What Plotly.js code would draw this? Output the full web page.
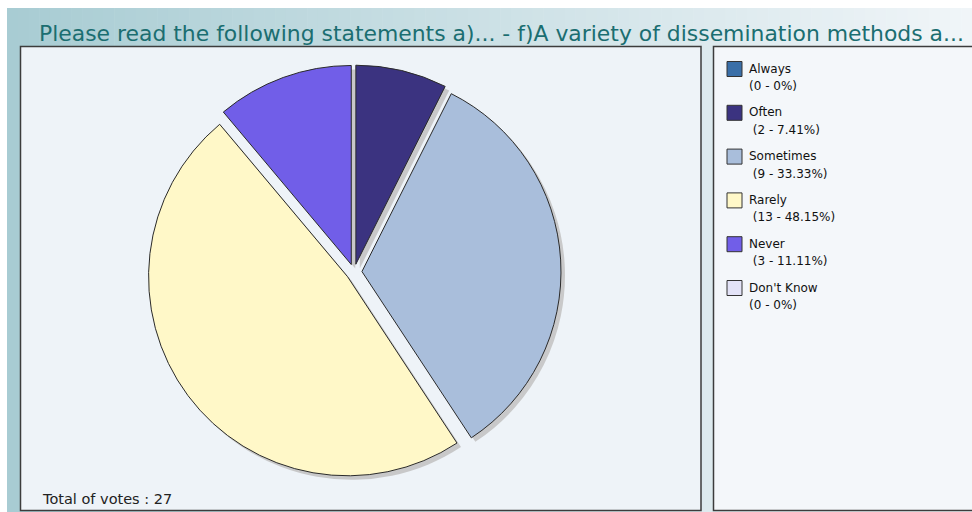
<!DOCTYPE html>
<html><head><meta charset="utf-8">
<script src="https://cdn.plot.ly/plotly-3.0.1.min.js"></script>
<style>html,body{margin:0;padding:0;background:#fff;overflow:hidden}</style>
</head><body>
<div id="chart" style="width:972px;height:512px"></div>
<script>
// ---- data ----
const categories = ['Always', 'Often', 'Sometimes', 'Rarely', 'Never', "Don't Know"];
const votes = [0, 2, 9, 13, 3, 0];
const percentLabels = ['0%', '7.41%', '33.33%', '48.15%', '11.11%', '0%'];
const totalVotes = 27;
const titleText = 'Please read the following statements a)... - f)A variety of dissemination methods a...';

// ---- styles ----
const sliceColors = ['#3a6fa8', '#3b3380', '#a9bedb', '#fff8c8', '#715ee8', '#e3e3f7'];
const W = 972, H = 512;
const px = v => v / W;
const py = v => 1 - v / H;
const FONT = 'DejaVu Sans, Verdana, sans-serif';

// pie geometry (pixels)
const cx = 354, cy = 272, half = 207, pullAmt = 0.04, shadowOff = 4;

const pieDomain = (dx, dy) => ({
  x: [px(cx - half + dx), px(cx + half + dx)],
  y: [py(cy + half + dy), py(cy - half + dy)]
});

const lineWidths = votes.map(v => (v > 0 ? 1 : 0));

const shadow = {
  type: 'pie', labels: categories, values: votes, sort: false, direction: 'clockwise',
  rotation: 0, pull: pullAmt, textinfo: 'none', hoverinfo: 'skip', showlegend: false,
  marker: { colors: categories.map(() => '#c4c4c4'), line: { width: 0 } },
  opacity: 0.9,
  domain: pieDomain(shadowOff, shadowOff)
};

const pie = {
  type: 'pie', labels: categories, values: votes, sort: false, direction: 'clockwise',
  rotation: 0, pull: pullAmt, textinfo: 'none', showlegend: false,
  hovertemplate: '%{label}: %{value} (%{percent})<extra></extra>',
  marker: { colors: sliceColors, line: { color: '#2a2a2a', width: lineWidths } },
  domain: pieDomain(0, 0)
};

// ---- background decoration ----
const shapes = [];
const gx0 = 7, gx1 = 972, gy0 = 8, gy1 = 512;
const cL = [168, 204, 211], cR = [240, 245, 248];
const N = 90;
for (let i = 0; i < N; i++) {
  const t = i / (N - 1);
  const c = cL.map((a, k) => Math.round(a + (cR[k] - a) * t));
  const xa = gx0 + (gx1 - gx0) * i / N, xb = gx0 + (gx1 - gx0) * (i + 1) / N + 0.6;
  shapes.push({ type: 'rect', xref: 'paper', yref: 'paper', layer: 'below',
    x0: px(xa), x1: px(xb), y0: py(gy1), y1: py(gy0),
    fillcolor: `rgb(${c[0]},${c[1]},${c[2]})`, line: { width: 0 } });
}
// plot panel
shapes.push({ type: 'rect', xref: 'paper', yref: 'paper', layer: 'below',
  x0: px(20.5), x1: px(701), y0: py(510.5), y1: py(46.5),
  fillcolor: '#eef3f8', line: { color: '#3c3c3c', width: 1.5 } });
// legend panel
shapes.push({ type: 'rect', xref: 'paper', yref: 'paper', layer: 'below',
  x0: px(713.5), x1: px(976), y0: py(510.5), y1: py(46.5),
  fillcolor: '#f4f7fa', line: { color: '#3c3c3c', width: 1.5 } });

// ---- legend (built from data arrays) ----
const annotations = [];
const legTop = 61.5, legStep = 43.8, swX = 727, swS = 15, textX = 746.5;
categories.forEach((name, i) => {
  const y0 = legTop + i * legStep;
  shapes.push({ type: 'rect', xref: 'paper', yref: 'paper', layer: 'above',
    x0: px(swX), x1: px(swX + swS), y0: py(y0 + swS), y1: py(y0),
    fillcolor: sliceColors[i], line: { color: '#333', width: 1 } });
  annotations.push({ xref: 'paper', yref: 'paper', x: px(textX), y: py(y0 + 7), xanchor: 'left', yanchor: 'middle',
    showarrow: false, text: name, font: { family: FONT, size: 12, color: '#111' } });
  const valueText = (votes[i] > 0 ? '\u00a0' : '') + '(' + votes[i] + ' - ' + percentLabels[i] + ')';
  annotations.push({ xref: 'paper', yref: 'paper', x: px(textX), y: py(y0 + 24.5), xanchor: 'left', yanchor: 'middle',
    showarrow: false, text: valueText, font: { family: FONT, size: 12, color: '#111' } });
});
annotations.push({ xref: 'paper', yref: 'paper', x: px(40), y: py(498.5), xanchor: 'left', yanchor: 'middle',
  showarrow: false, text: 'Total of votes : ' + totalVotes, font: { family: FONT, size: 14.5, color: '#222' } });

const layout = {
  width: W, height: H,
  margin: { l: 0, r: 0, t: 0, b: 0, pad: 0 },
  paper_bgcolor: '#ffffff', plot_bgcolor: 'rgba(0,0,0,0)',
  showlegend: false,
  title: { text: titleText, x: px(39), xanchor: 'left', xref: 'container', y: py(33), yref: 'container', yanchor: 'middle',
    font: { family: FONT, size: 21.9, color: '#1b6e71' } },
  shapes: shapes,
  annotations: annotations
};

Plotly.newPlot('chart', [shadow, pie], layout, { displayModeBar: false, staticPlot: false });
</script>
</body></html>
